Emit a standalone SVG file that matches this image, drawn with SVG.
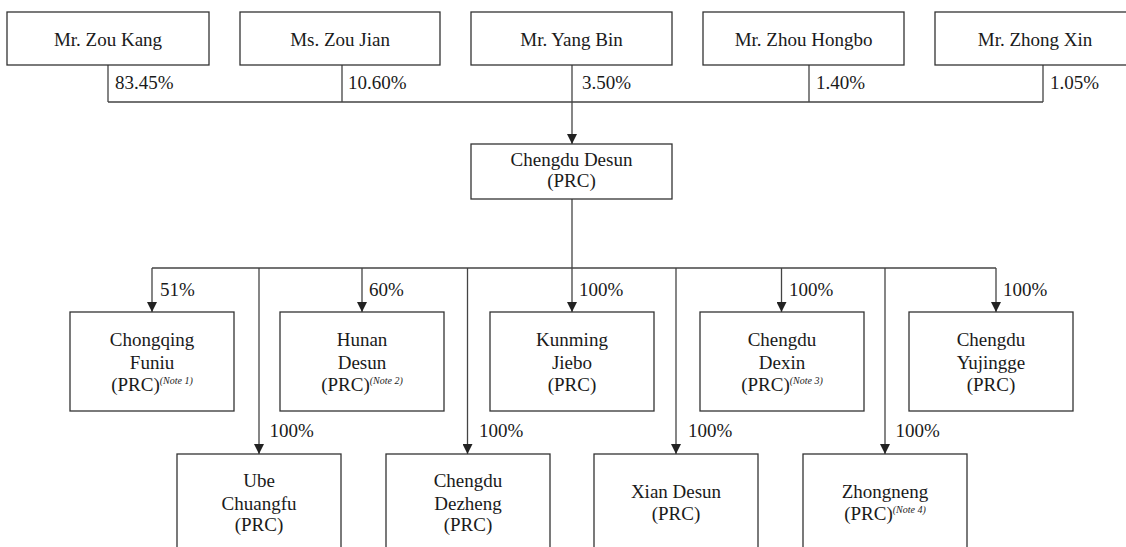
<svg xmlns="http://www.w3.org/2000/svg" width="1126" height="547" viewBox="0 0 1126 547">
<style>
.box{fill:#fff;stroke:#333;stroke-width:1.3}
.ln{fill:none;stroke:#444;stroke-width:1.3}
text{font-family:'Liberation Serif','DejaVu Serif',serif;font-size:19px;fill:#1a1a1a}
.c{text-anchor:middle}
.note{font-size:10px;font-style:italic}
</style>
<defs>
<marker id="ah" markerUnits="userSpaceOnUse" markerWidth="10" markerHeight="10" refX="10" refY="5" orient="auto" viewBox="0 0 10 10">
<path d="M0,0 L10,5 L0,10 z" fill="#222"/>
</marker>
</defs>
<rect width="1126" height="547" fill="#fff"/>
<g id="connectors">
<path class="ln" d="M108,65 V102 M342,65 V102 M809,65 V102 M1043,65 V102 M108,102 H1043"/>
<path class="ln" d="M572,65 V144" marker-end="url(#ah)"/>
<path class="ln" d="M572,199 V312" marker-end="url(#ah)"/>
<path class="ln" d="M152,268 H996"/>
<path class="ln" d="M152,268 V312" marker-end="url(#ah)"/>
<path class="ln" d="M362,268 V312" marker-end="url(#ah)"/>
<path class="ln" d="M781.5,268 V312" marker-end="url(#ah)"/>
<path class="ln" d="M996,268 V312" marker-end="url(#ah)"/>
<path class="ln" d="M259,268 V454" marker-end="url(#ah)"/>
<path class="ln" d="M467.5,268 V454" marker-end="url(#ah)"/>
<path class="ln" d="M676,268 V454" marker-end="url(#ah)"/>
<path class="ln" d="M885,268 V454" marker-end="url(#ah)"/>
<text x="115" y="89">83.45%</text>
<text x="348" y="89">10.60%</text>
<text x="582" y="89">3.50%</text>
<text x="816" y="89">1.40%</text>
<text x="1050" y="89">1.05%</text>
<text x="160" y="296">51%</text>
<text x="369" y="296">60%</text>
<text x="579" y="296">100%</text>
<text x="789" y="296">100%</text>
<text x="1003" y="296">100%</text>
<text x="269.5" y="437">100%</text>
<text x="479" y="437">100%</text>
<text x="688" y="437">100%</text>
<text x="895.5" y="437">100%</text>
</g>
<g id="n-zoukang"><rect class="box" x="7" y="12" width="202" height="53"/><text class="c" x="108" y="45.5">Mr. Zou Kang</text></g>
<g id="n-zoujian"><rect class="box" x="240" y="12" width="200" height="53"/><text class="c" x="340" y="45.5">Ms. Zou Jian</text></g>
<g id="n-yangbin"><rect class="box" x="471" y="12" width="201" height="53"/><text class="c" x="571.5" y="45.5">Mr. Yang Bin</text></g>
<g id="n-zhouhongbo"><rect class="box" x="703" y="12" width="201" height="53"/><text class="c" x="803.5" y="45.5">Mr. Zhou Hongbo</text></g>
<g id="n-zhongxin"><rect class="box" x="935" y="12" width="201" height="53"/><text class="c" x="1035" y="45.5">Mr. Zhong Xin</text></g>
<g id="n-chengdudesun"><rect class="box" x="471" y="144" width="201" height="55"/><text class="c" x="571.5" y="165.5">Chengdu Desun</text><text class="c" x="571.5" y="187">(PRC)</text></g>
<g id="n-chongqing"><rect class="box" x="70" y="312" width="164" height="99"/><text class="c" x="152" y="346">Chongqing</text><text class="c" x="152" y="368.5">Funiu</text><text class="c" x="152" y="391">(PRC)<tspan class="note" dy="-7">(Note 1)</tspan></text></g>
<g id="n-hunan"><rect class="box" x="280" y="312" width="164" height="99"/><text class="c" x="362" y="346">Hunan</text><text class="c" x="362" y="368.5">Desun</text><text class="c" x="362" y="391">(PRC)<tspan class="note" dy="-7">(Note 2)</tspan></text></g>
<g id="n-kunming"><rect class="box" x="490" y="312" width="164" height="99"/><text class="c" x="572" y="346">Kunming</text><text class="c" x="572" y="368.5">Jiebo</text><text class="c" x="572" y="391">(PRC)</text></g>
<g id="n-dexin"><rect class="box" x="700" y="312" width="164" height="99"/><text class="c" x="782" y="346">Chengdu</text><text class="c" x="782" y="368.5">Dexin</text><text class="c" x="782" y="391">(PRC)<tspan class="note" dy="-7">(Note 3)</tspan></text></g>
<g id="n-yujingge"><rect class="box" x="909" y="312" width="164" height="99"/><text class="c" x="991" y="346">Chengdu</text><text class="c" x="991" y="368.5">Yujingge</text><text class="c" x="991" y="391">(PRC)</text></g>
<g id="n-ube"><rect class="box" x="177" y="454" width="164" height="110"/><text class="c" x="259" y="487">Ube</text><text class="c" x="259" y="509.5">Chuangfu</text><text class="c" x="259" y="531">(PRC)</text></g>
<g id="n-dezheng"><rect class="box" x="386" y="454" width="164" height="110"/><text class="c" x="468" y="487">Chengdu</text><text class="c" x="468" y="509.5">Dezheng</text><text class="c" x="468" y="531">(PRC)</text></g>
<g id="n-xian"><rect class="box" x="594" y="454" width="164" height="110"/><text class="c" x="676" y="498">Xian Desun</text><text class="c" x="676" y="520">(PRC)</text></g>
<g id="n-zhongneng"><rect class="box" x="803" y="454" width="164" height="110"/><text class="c" x="885" y="498">Zhongneng</text><text class="c" x="885" y="520">(PRC)<tspan class="note" dy="-7">(Note 4)</tspan></text></g>
</svg>
